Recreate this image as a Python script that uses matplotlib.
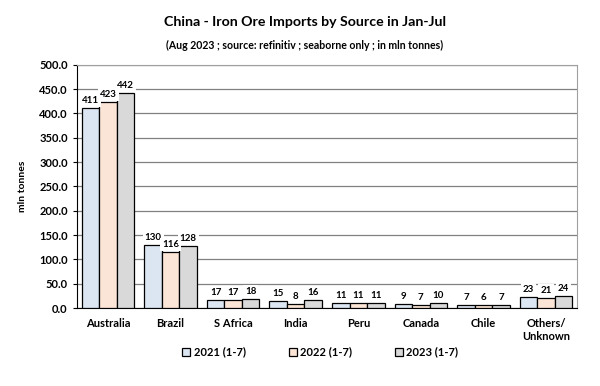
import matplotlib.pyplot as plt
import numpy as np

plt.rcParams['font.family'] = ['Lato', 'DejaVu Sans']

kategorie = ["Australia", "Brazil", "S Africa", "India", "Peru", "Canada", "Chile", "Others/\nUnknown"]
serie = ["2021 (1-7)", "2022 (1-7)", "2023 (1-7)"]
w2021 = [411, 130, 17, 15, 11, 9, 7, 23]
w2022 = [423, 116, 17, 8, 11, 7, 6, 21]
w2023 = [442, 128, 18, 16, 11, 10, 7, 24]
kolory = ["#dce6f2", "#fbe5d6", "#d9d9d9"]

fig = plt.figure(figsize=(6, 3.86), dpi=100)
ax = fig.add_axes([0.128, 0.202, 0.834, 0.630])

x = np.arange(len(kategorie))
szer = 0.28
for i, (dane, kolor, nazwa) in enumerate(zip([w2021, w2022, w2023], kolory, serie)):
    pozycje = x + (i - 1) * szer
    ax.bar(pozycje, dane, szer, color=kolor, edgecolor="black", linewidth=0.9,
           label=nazwa, zorder=3)
    for px, v in zip(pozycje, dane):
        ax.text(px, v + 6, f"{v}", ha="center", va="bottom", fontsize=7,
                fontweight="bold", zorder=4,
                bbox=dict(facecolor="white", edgecolor="none", pad=1.5))

ax.set_xlim(-0.5, len(kategorie) - 0.5)
ax.set_ylim(0, 500)
ax.set_yticks(np.arange(0, 501, 50))
ax.set_yticklabels([f"{t:.1f}" for t in np.arange(0, 501, 50)], fontsize=8, fontweight="bold")
ax.set_xticks(x)
ax.set_xticklabels(kategorie, fontsize=8, fontweight="bold")
ax.tick_params(axis="x", length=0, pad=7)
ax.tick_params(axis="y", length=3, direction="out")
ax.yaxis.grid(True, color="#808080", linewidth=0.9, zorder=0)
ax.set_ylabel("mln tonnes", fontsize=7.5, fontweight="bold", labelpad=9)

for s in ["top", "right"]:
    ax.spines[s].set_color("#a0a0a0")
ax.spines["left"].set_color("black")
ax.spines["bottom"].set_color("black")

fig.text(0.508, 0.943, "China - Iron Ore Imports by Source in Jan-Jul", ha="center",
         va="center", fontsize=10.2, fontweight="bold")
fig.text(0.508, 0.883, "(Aug 2023 ; source: refinitiv ; seaborne only ; in mln tonnes)",
         ha="center", va="center", fontsize=7.6, fontweight="bold")

fig.legend(loc="center", bbox_to_anchor=(0.534, 0.088), ncol=3, frameon=False,
           prop={"weight": "bold", "size": 8}, handlelength=0.7,
           handleheight=0.7, handletextpad=0.3, columnspacing=3.9)

fig.savefig("out.png", dpi=100)
